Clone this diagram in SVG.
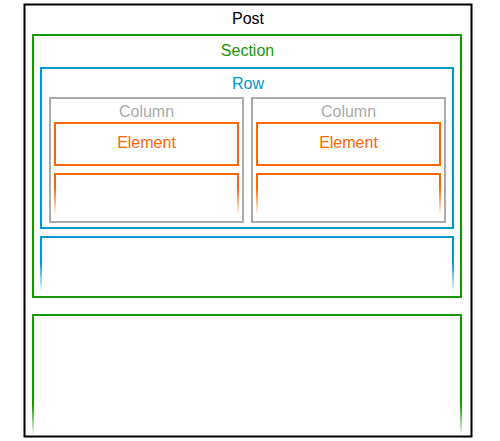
<svg xmlns="http://www.w3.org/2000/svg" width="500" height="441" viewBox="0 0 500 441">
<style>
text{font-family:"Liberation Sans",Arial,sans-serif;font-size:16px;text-anchor:middle}
rect,path{fill:none;stroke-width:2}
.post{stroke:#000}
.sec{stroke:#169900}
.row{stroke:#0099cc}
.col{stroke:#aaaaaa}
.el{stroke:#ff6600}
</style>
<defs>
<linearGradient id="gEl" gradientUnits="userSpaceOnUse" x1="0" y1="188" x2="0" y2="215">
<stop offset="0" stop-color="#ff6600"/><stop offset="1" stop-color="#ff6600" stop-opacity="0"/>
</linearGradient>
<linearGradient id="gRow" gradientUnits="userSpaceOnUse" x1="0" y1="262" x2="0" y2="292">
<stop offset="0" stop-color="#0099cc"/><stop offset="1" stop-color="#0099cc" stop-opacity="0"/>
</linearGradient>
<linearGradient id="gSec" gradientUnits="userSpaceOnUse" x1="0" y1="405" x2="0" y2="435">
<stop offset="0" stop-color="#169900"/><stop offset="1" stop-color="#169900" stop-opacity="0"/>
</linearGradient>
</defs>
<rect width="500" height="441" fill="#fff" style="stroke:none"/>
<g id="post">
<rect class="post" x="24.5" y="4.5" width="447" height="432"/>
<text x="248" y="23.5" fill="#000">Post</text>
</g>
<g id="section1">
<rect class="sec" x="33" y="35" width="428" height="262"/>
<text x="247.5" y="55.5" fill="#169900">Section</text>
</g>
<g id="row1">
<rect class="row" x="41" y="68" width="412" height="160"/>
<text x="248" y="88.5" fill="#0099cc">Row</text>
</g>
<g id="column1">
<rect class="col" x="50" y="98" width="193" height="124"/>
<text x="146.5" y="116.5" fill="#aaaaaa">Column</text>
</g>
<g id="element1">
<rect class="el" x="55" y="123" width="183" height="42"/>
<text x="146.5" y="147.5" fill="#ff6600">Element</text>
</g>
<g id="element1b">
<path d="M55,215 V174 H238 V215" stroke="url(#gEl)"/>
</g>
<g id="column2">
<rect class="col" x="252" y="98" width="193" height="124"/>
<text x="348.5" y="116.5" fill="#aaaaaa">Column</text>
</g>
<g id="element2">
<rect class="el" x="257" y="123" width="183" height="42"/>
<text x="348.5" y="147.5" fill="#ff6600">Element</text>
</g>
<g id="element2b">
<path d="M257,215 V174 H440 V215" stroke="url(#gEl)"/>
</g>
<g id="row2">
<path d="M41,292 V237 H453 V292" stroke="url(#gRow)"/>
</g>
<g id="section2">
<path d="M33,435 V315 H461 V435" stroke="url(#gSec)"/>
</g>
<g id="connectors"></g>
</svg>
